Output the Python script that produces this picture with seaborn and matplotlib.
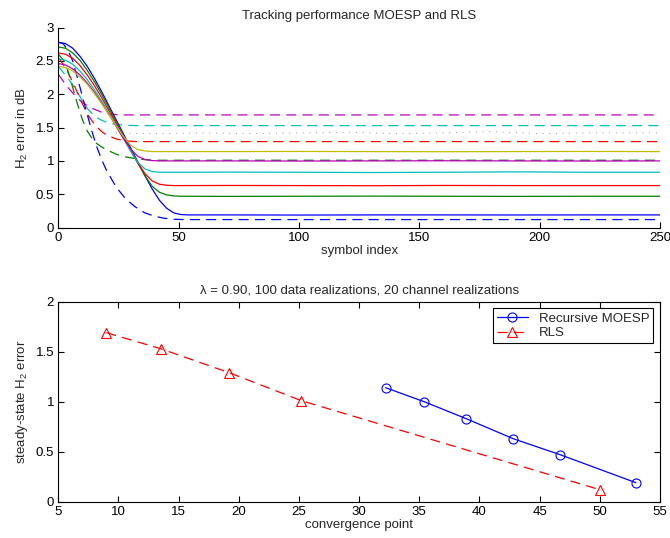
import numpy as np
import pandas as pd
import matplotlib
matplotlib.use("Agg")
import matplotlib.pyplot as plt
import seaborn as sns

sns.set_theme(style="white")
plt.rcParams['font.family'] = ['Liberation Sans', 'DejaVu Sans']
plt.rcParams['mathtext.fontset'] = 'custom'
plt.rcParams['mathtext.rm'] = 'Liberation Sans'
plt.rcParams['mathtext.it'] = 'Liberation Sans:italic'
plt.rcParams['xtick.direction'] = 'in'
plt.rcParams['ytick.direction'] = 'in'

# ---------------- data: top panel ----------------
solid_x = [0, 3, 6, 9, 12, 15, 18, 21, 24, 27, 30, 33, 36, 39, 42, 45, 48, 51, 54,
           70, 100, 130, 160, 190, 220, 250]
moesp_blue = [2.78, 2.76, 2.69, 2.57, 2.42, 2.24, 2.04, 1.83, 1.62, 1.41, 1.20, 0.99, 0.78, 0.58, 0.41, 0.29, 0.22, 0.195, 0.19,
              0.19, 0.188, 0.19, 0.19, 0.189, 0.19, 0.19]
moesp_green = [2.71, 2.69, 2.62, 2.51, 2.36, 2.19, 2.00, 1.80, 1.59, 1.38, 1.17, 0.97, 0.78, 0.62, 0.53, 0.49, 0.475, 0.47, 0.47,
               0.468, 0.47, 0.472, 0.47, 0.468, 0.47, 0.47]
moesp_red = [2.62, 2.60, 2.54, 2.43, 2.29, 2.13, 1.95, 1.76, 1.56, 1.36, 1.16, 0.97, 0.81, 0.70, 0.65, 0.635, 0.63, 0.63, 0.63,
             0.632, 0.63, 0.628, 0.632, 0.63, 0.63, 0.63]
moesp_cyan = [2.53, 2.51, 2.45, 2.35, 2.22, 2.07, 1.90, 1.72, 1.53, 1.34, 1.15, 0.98, 0.88, 0.84, 0.83, 0.83, 0.83, 0.83, 0.83,
              0.832, 0.83, 0.826, 0.83, 0.836, 0.83, 0.83]
moesp_magenta = [2.46, 2.44, 2.38, 2.29, 2.17, 2.03, 1.87, 1.70, 1.52, 1.34, 1.18, 1.07, 1.02, 1.005, 1.0, 1.0, 1.0, 1.0, 1.0,
                 1.0, 0.998, 1.0, 1.002, 1.0, 0.998, 1.0]
moesp_yellow = [2.42, 2.40, 2.35, 2.26, 2.15, 2.01, 1.86, 1.70, 1.53, 1.37, 1.24, 1.17, 1.15, 1.14, 1.14, 1.14, 1.14, 1.14, 1.14,
                1.14, 1.142, 1.14, 1.138, 1.14, 1.142, 1.14]

dash_x = [0, 2, 4, 6, 8, 10, 12, 14, 16, 18, 20, 24, 28, 32, 36, 40, 44, 48, 52,
          70, 100, 130, 160, 190, 220, 250]
rls_magenta = [2.30, 2.20, 2.10, 2.02, 1.94, 1.88, 1.83, 1.79, 1.76, 1.73, 1.71, 1.695, 1.69, 1.69, 1.69, 1.69, 1.69, 1.69, 1.69,
               1.69, 1.69, 1.69, 1.69, 1.69, 1.69, 1.69]
rls_cyan = [2.42, 2.33, 2.24, 2.14, 2.03, 1.90, 1.79, 1.71, 1.65, 1.61, 1.58, 1.545, 1.535, 1.53, 1.53, 1.53, 1.53, 1.53, 1.53,
            1.53, 1.53, 1.53, 1.53, 1.53, 1.53, 1.53]
rls_red = [2.55, 2.45, 2.33, 2.18, 2.02, 1.86, 1.71, 1.60, 1.51, 1.44, 1.39, 1.33, 1.30, 1.29, 1.29, 1.29, 1.29, 1.29, 1.29,
           1.29, 1.29, 1.29, 1.29, 1.29, 1.29, 1.29]
rls_green = [2.60, 2.52, 2.35, 2.10, 1.85, 1.62, 1.45, 1.34, 1.26, 1.21, 1.17, 1.10, 1.06, 1.035, 1.02, 1.01, 1.01, 1.01, 1.01,
             1.01, 1.01, 1.01, 1.01, 1.01, 1.01, 1.01]
rls_blue = [2.78, 2.76, 2.66, 2.50, 2.24, 1.97, 1.70, 1.44, 1.21, 1.02, 0.86, 0.61, 0.43, 0.31, 0.22, 0.17, 0.14, 0.125, 0.12,
            0.12, 0.12, 0.12, 0.12, 0.12, 0.12, 0.12]
rls_black_x = [24, 40, 60, 80, 100, 120, 140, 160, 180, 200, 220, 250]
rls_black = [1.42, 1.41, 1.42, 1.41, 1.42, 1.43, 1.41, 1.42, 1.44, 1.41, 1.42, 1.42]

# ---------------- data: bottom panel ----------------
moesp_conv = [32.2, 35.4, 38.9, 42.8, 46.7, 53.0]
moesp_err = [1.14, 1.00, 0.83, 0.63, 0.47, 0.19]
rls_conv = [9.0, 13.5, 19.2, 25.2, 50.0]
rls_err = [1.69, 1.53, 1.29, 1.01, 0.12]

C_B = (0, 0, 1)
C_G = (0, 0.5, 0)
C_R = (1, 0, 0)
C_C = (0, 0.75, 0.75)
C_M = (0.75, 0, 0.75)
C_Y = (0.75, 0.75, 0)

fig = plt.figure(figsize=(6.7, 5.38), dpi=100)
ax1 = fig.add_axes([0.087, 0.577, 0.898, 0.3717])
ax2 = fig.add_axes([0.087, 0.0675, 0.898, 0.3717])

FS = 9.5
LW = 0.9
DASH = (8, 5)

solids = [(moesp_blue, C_B), (moesp_green, C_G), (moesp_red, C_R),
          (moesp_cyan, C_C), (moesp_magenta, C_M), (moesp_yellow, C_Y)]
dashes = [(rls_magenta, C_M), (rls_cyan, C_C), (rls_red, C_R),
          (rls_green, C_G), (rls_blue, C_B)]

for ys, c in dashes:
    sns.lineplot(x=dash_x, y=ys, ax=ax1, color=c, lw=LW, sort=False, estimator=None,
                 dashes=False, linestyle=(0, DASH))
sns.lineplot(x=rls_black_x, y=rls_black, ax=ax1, color='0.45', lw=0.6, sort=False,
             estimator=None, linestyle=(0, (1, 7)))
for ys, c in solids:
    sns.lineplot(x=solid_x, y=ys, ax=ax1, color=c, lw=LW, sort=False, estimator=None)

ax1.set_xlim(0, 250)
ax1.set_ylim(0, 3)
ax1.set_xticks([0, 50, 100, 150, 200, 250])
ax1.set_yticks([0, 0.5, 1, 1.5, 2, 2.5, 3])
ax1.set_yticklabels(['0', '0.5', '1', '1.5', '2', '2.5', '3'])
for s in ['top', 'right']:
    ax1.spines[s].set_visible(False)
for s in ['left', 'bottom']:
    ax1.spines[s].set_color('black')
    ax1.spines[s].set_linewidth(0.8)
ax1.tick_params(axis='both', direction='in', length=4, width=0.8, labelsize=FS,
                colors='black', bottom=True, left=True, pad=3)
ax1.set_title('Tracking performance MOESP and RLS', fontsize=FS, pad=6)
ax1.set_xlabel('symbol index', fontsize=FS, labelpad=1)
ax1.set_ylabel(r'H$_\mathrm{2}$ error in dB', fontsize=FS, labelpad=4)

# bottom panel
sns.lineplot(x=moesp_conv, y=moesp_err, ax=ax2, color=C_B, lw=LW, marker='o',
             markersize=6.5, markerfacecolor='none', markeredgecolor=C_B, markeredgewidth=0.8,
             sort=False, estimator=None, label='Recursive MOESP')
sns.lineplot(x=rls_conv, y=rls_err, ax=ax2, color=C_R, lw=LW, marker='^',
             markersize=6.5, markerfacecolor='none', markeredgecolor=C_R, markeredgewidth=0.8,
             sort=False, estimator=None, linestyle=(0, DASH), label='RLS')

ax2.set_xlim(5, 55)
ax2.set_ylim(0, 2)
ax2.set_xticks(list(range(5, 60, 5)))
ax2.set_yticks([0, 0.5, 1, 1.5, 2])
ax2.set_yticklabels(['0', '0.5', '1', '1.5', '2'])
for s in ax2.spines.values():
    s.set_visible(True)
    s.set_color('black')
    s.set_linewidth(0.8)
ax2.tick_params(axis='both', direction='in', length=4, width=0.8, labelsize=FS,
                colors='black', bottom=True, left=True, top=True, right=True,
                labeltop=False, labelright=False, pad=3)
ax2.set_title('λ = 0.90, 100 data realizations, 20 channel realizations', fontsize=FS, pad=6)
ax2.set_xlabel('convergence point', fontsize=FS, labelpad=1)
ax2.set_ylabel(r'steady-state H$_\mathrm{2}$ error', fontsize=FS, labelpad=4)
leg = ax2.legend(loc='upper right', fontsize=FS, frameon=True, fancybox=False,
                 framealpha=1, edgecolor='black', borderaxespad=0.5, handlelength=2.4,
                 borderpad=0.3, labelspacing=0.2)
leg.get_frame().set_linewidth(0.8)

fig.savefig('out.png', dpi=100)
